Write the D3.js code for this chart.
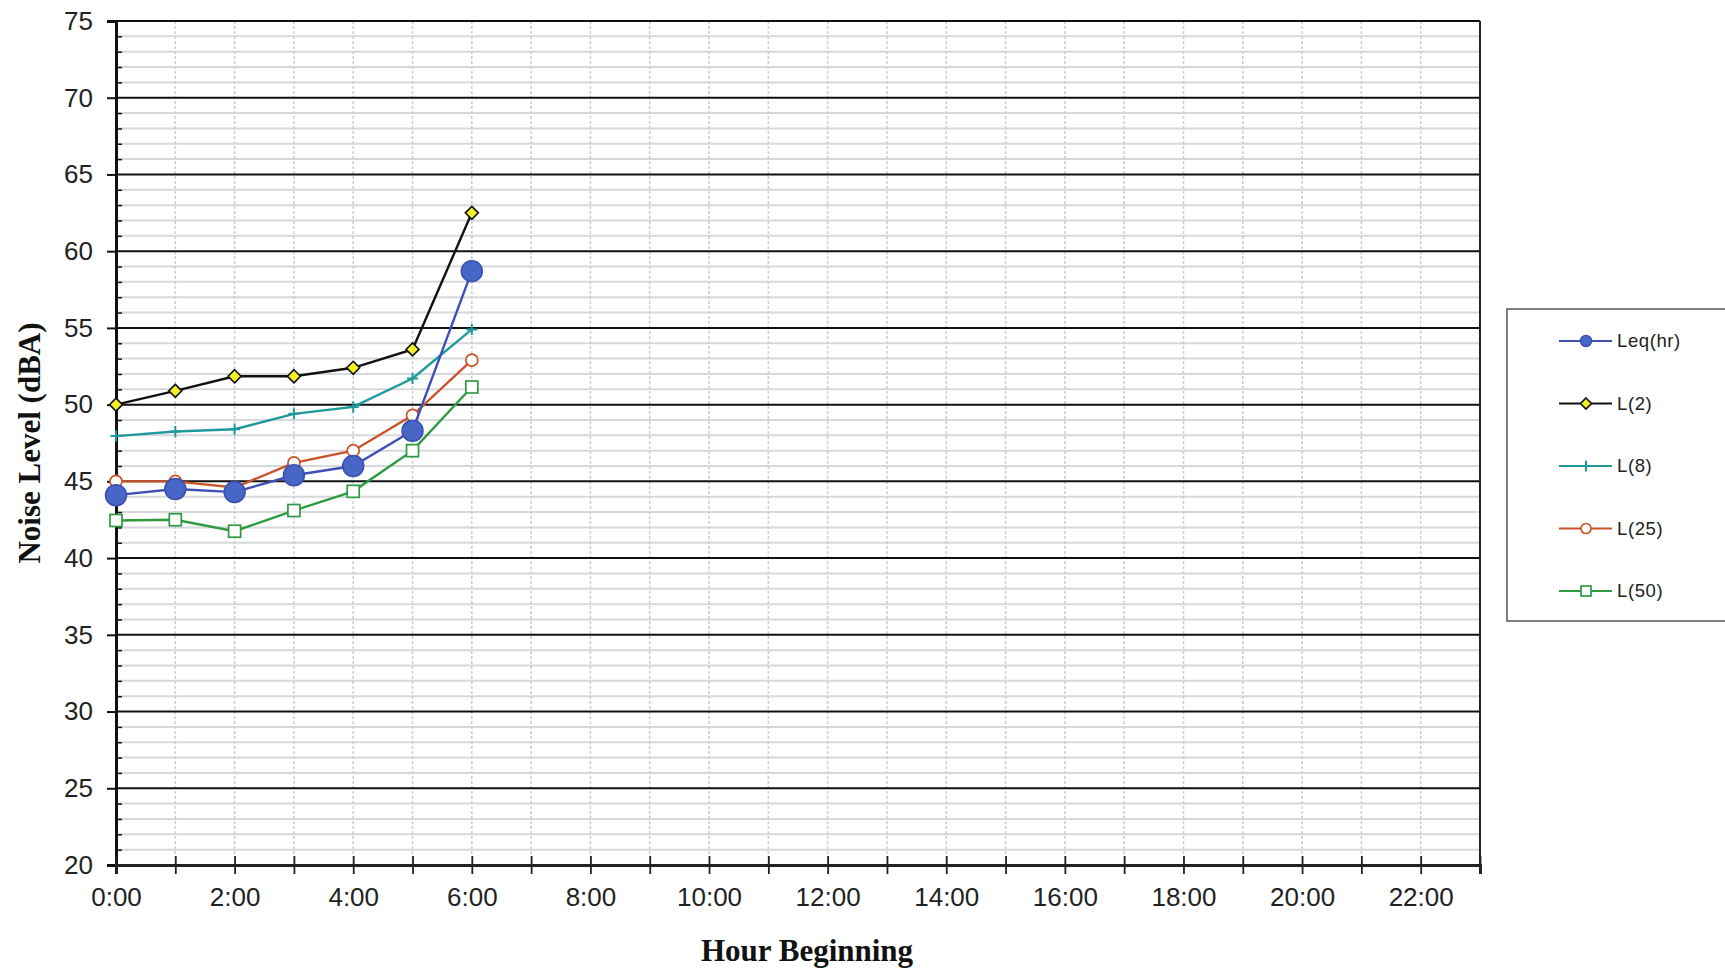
<!DOCTYPE html>
<html><head><meta charset="utf-8">
<script src="https://cdn.jsdelivr.net/npm/d3@7"></script>
<style>html,body{margin:0;padding:0;background:#fff;}svg{display:block;}</style>
</head><body>
<svg id="chart" width="1725" height="969"></svg>
<script>
const hours = [0, 1, 2, 3, 4, 5, 6];
const leq = [44.1, 44.5, 44.3, 45.4, 46.0, 48.3, 58.7];
const l2 = [50.0, 50.9, 51.85, 51.85, 52.4, 53.6, 62.5];
const l8 = [47.95, 48.25, 48.4, 49.4, 49.85, 51.7, 54.9];
const l25 = [45.0, 45.0, 44.6, 46.2, 47.0, 49.3, 52.9];
const l50 = [42.45, 42.5, 41.75, 43.1, 44.35, 47.0, 51.15];
const seriesNames = ["Leq(hr)", "L(2)", "L(8)", "L(25)", "L(50)"];
const xTickLabels = ["0:00","2:00","4:00","6:00","8:00","10:00","12:00","14:00","16:00","18:00","20:00","22:00"];
const yTicks = [20,25,30,35,40,45,50,55,60,65,70,75];
const xTitle = "Hour Beginning";
const yTitle = "Noise Level (dBA)";

const svg = d3.select("#chart");
const x = d3.scaleLinear().domain([0, 23]).range([116, 1480]);
const y = d3.scaleLinear().domain([20, 75]).range([865, 21]);

const series = [
  {name: seriesNames[0], values: leq, color: "#3f4fb3", shape: "bigcircle"},
  {name: seriesNames[1], values: l2, color: "#111111", shape: "diamond"},
  {name: seriesNames[2], values: l8, color: "#1f9a9c", shape: "plus"},
  {name: seriesNames[3], values: l25, color: "#c9542b", shape: "circle"},
  {name: seriesNames[4], values: l50, color: "#2f9a40", shape: "square"}
];

// minor horizontal grid
const g = svg.append("g");
d3.range(21, 75).filter(v => v % 5 !== 0).forEach(v => {
  g.append("line").attr("x1", x(0)).attr("x2", x(23)).attr("y1", y(v)).attr("y2", y(v))
    .attr("stroke", "#d6d8db").attr("stroke-width", 2);
});
// vertical dashed grid
d3.range(1, 23).forEach(h => {
  g.append("line").attr("x1", x(h)).attr("x2", x(h)).attr("y1", y(75)).attr("y2", y(20))
    .attr("stroke", "#cdd0d3").attr("stroke-width", 1.6).attr("stroke-dasharray", "3,2");
});
// major horizontal grid
yTicks.forEach(v => {
  g.append("line").attr("x1", x(0)).attr("x2", x(23)).attr("y1", y(v)).attr("y2", y(v))
    .attr("stroke", "#111").attr("stroke-width", 2);
});
// right border
g.append("line").attr("x1", x(23)).attr("x2", x(23)).attr("y1", y(75)).attr("y2", y(20))
  .attr("stroke", "#222").attr("stroke-width", 2);

// Y axis
const yAxis = d3.axisLeft(y).tickValues(yTicks).tickSize(9).tickPadding(14).tickFormat(d3.format("d"));
const ya = svg.append("g").attr("transform", `translate(${x(0)},0)`).call(yAxis);
ya.select(".domain").attr("stroke", "#111").attr("stroke-width", 3);
ya.selectAll(".tick line").attr("stroke", "#111").attr("stroke-width", 2);
ya.selectAll("text").attr("font-family", "Arial, 'Liberation Sans', sans-serif").attr("font-size", 26).attr("fill", "#222");
// minor y ticks (inside)
const yMinor = d3.axisRight(y).tickValues(d3.range(21, 75).filter(v => v % 5 !== 0)).tickSize(6).tickFormat("");
const ym = svg.append("g").attr("transform", `translate(${x(0)},0)`).call(yMinor);
ym.select(".domain").remove();
ym.selectAll(".tick line").attr("stroke", "#111").attr("stroke-width", 1.5);

// X axis
const xAxis = d3.axisBottom(x).tickValues(d3.range(0, 24)).tickSize(9).tickPadding(14)
  .tickFormat(d => d % 2 === 0 && d < 23 ? xTickLabels[d / 2] : "");
const xa = svg.append("g").attr("transform", `translate(0,${y(20)})`).call(xAxis);
xa.select(".domain").attr("stroke", "#222").attr("stroke-width", 3);
xa.selectAll(".tick line").attr("stroke", "#222").attr("stroke-width", 1.8).attr("y1", -9);
xa.selectAll("text").attr("font-family", "Arial, 'Liberation Sans', sans-serif").attr("font-size", 26).attr("fill", "#222");

// Titles
svg.append("text").attr("x", 807).attr("y", 961).attr("text-anchor", "middle")
  .attr("font-family", "'Times New Roman', 'Liberation Serif', serif").attr("font-weight", "bold")
  .attr("font-size", 31).attr("fill", "#111").text(xTitle);
svg.append("text").attr("transform", "translate(40,443) rotate(-90)").attr("text-anchor", "middle")
  .attr("font-family", "'Times New Roman', 'Liberation Serif', serif").attr("font-weight", "bold")
  .attr("font-size", 31).attr("fill", "#111").text(yTitle);

function drawMarker(sel, s, cx, cy, legend) {
  if (s.shape === "bigcircle") {
    sel.append("circle").attr("cx", cx).attr("cy", cy).attr("r", legend ? 5.5 : 10.5)
      .attr("fill", "#4766c6").attr("stroke", "#3a4fb0").attr("stroke-width", 1.5);
  } else if (s.shape === "diamond") {
    const r = legend ? 5.5 : 6.5;
    sel.append("path").attr("d", `M${cx},${cy-r}L${cx+r},${cy}L${cx},${cy+r}L${cx-r},${cy}Z`)
      .attr("fill", "#f3f02a").attr("stroke", "#111").attr("stroke-width", 1.6);
  } else if (s.shape === "plus") {
    const r = 5.5;
    sel.append("path").attr("d", legend ? `M${cx},${cy-r}V${cy+r}` : `M${cx-r},${cy}H${cx+r}M${cx},${cy-r}V${cy+r}`)
      .attr("stroke", s.color).attr("stroke-width", 2);
  } else if (s.shape === "circle") {
    sel.append("circle").attr("cx", cx).attr("cy", cy).attr("r", legend ? 5 : 6)
      .attr("fill", "#fff").attr("stroke", s.color).attr("stroke-width", 1.7);
  } else if (s.shape === "square") {
    const r = legend ? 5 : 6;
    sel.append("rect").attr("x", cx - r).attr("y", cy - r).attr("width", 2*r).attr("height", 2*r)
      .attr("fill", "#fff").attr("stroke", s.color).attr("stroke-width", 1.7);
  }
}

// series lines (draw in reverse so Leq on top)
const line = d3.line().x((d, i) => x(hours[i])).y(d => y(d));
const order = [4, 3, 2, 1, 0];
order.forEach(idx => {
  const s = series[idx];
  const sg = svg.append("g");
  sg.append("path").attr("d", line(s.values)).attr("fill", "none").attr("stroke", s.color).attr("stroke-width", 2.4);
  s.values.forEach((v, i) => drawMarker(sg, s, x(hours[i]), y(v), false));
});

// Legend
svg.append("rect").attr("x", 1507).attr("y", 309).attr("width", 240).attr("height", 312)
  .attr("fill", "#fff").attr("stroke", "#555").attr("stroke-width", 1.5);
series.forEach((s, i) => {
  const ly = 341 + i * 62.5;
  const lg = svg.append("g");
  lg.append("line").attr("x1", 1559).attr("x2", 1612).attr("y1", ly).attr("y2", ly)
    .attr("stroke", s.color).attr("stroke-width", 2.2);
  drawMarker(lg, s, 1586, ly, true);
  lg.append("text").attr("x", 1617).attr("y", ly).attr("dy", "0.35em")
    .attr("font-family", "Arial, 'Liberation Sans', sans-serif").attr("font-size", 18.5)
    .attr("letter-spacing", 0.6).attr("fill", "#222").text(s.name);
});
</script>
</body></html>
